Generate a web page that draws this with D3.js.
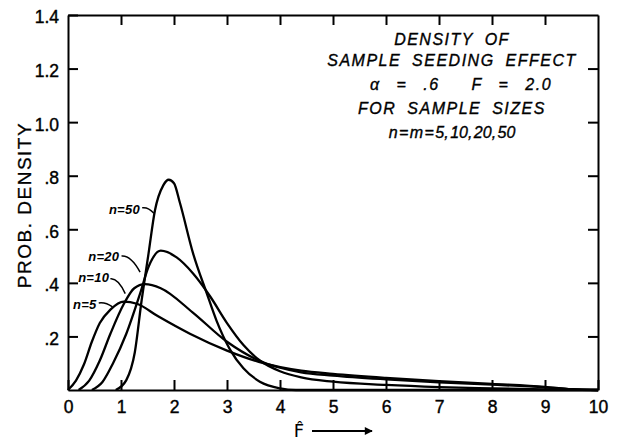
<!DOCTYPE html>
<html>
<head>
<meta charset="utf-8">
<script src="https://d3js.org/d3.v7.min.js"></script>
<style>
  body { margin: 0; background: #fff; }
  svg { display: block; }
  .axis text { font-family: "Liberation Sans", Arial, sans-serif; font-size: 17.5px; fill: #000;
               stroke: #000; stroke-width: 0.4; }
  .axis path, .axis line { stroke: #000; stroke-width: 2; }
  .note { font-family: "Liberation Sans", Arial, sans-serif; font-style: italic; font-size: 16px;
          letter-spacing: 1.5px; word-spacing: 5px; fill: #000; stroke: #000; stroke-width: 0.35;
          white-space: pre; }
  .lab { font-family: "Liberation Sans", Arial, sans-serif; font-style: italic; font-weight: bold;
         font-size: 13px; letter-spacing: 0.3px; fill: #000; }
</style>
</head>
<body>
<div id="chart"></div>
<script>
// x ticks and y ticks
const xTicks = [0, 1, 2, 3, 4, 5, 6, 7, 8, 9, 10];
const yTicks = [0.2, 0.4, 0.6, 0.8, 1.0, 1.2, 1.4];
const yTickLabels = [".2", ".4", ".6", ".8", "1.0", "1.2", "1.4"];

// curves: [F-hat, density]
const n5 = [[0, 0], [0.15, 0.035], [0.3, 0.095], [0.45, 0.18], [0.6, 0.25], [0.8, 0.3], [1.05, 0.33],
  [1.3, 0.322], [1.7, 0.275], [2.3, 0.21], [3.0, 0.147], [3.6, 0.105], [4.4, 0.072], [5, 0.06],
  [6, 0.045], [7, 0.033], [8, 0.023], [9, 0.012], [9.5, 0.003], [10, 0]];
const n10 = [[0.2, 0], [0.4, 0.035], [0.6, 0.11], [0.8, 0.21], [1.05, 0.32], [1.25, 0.38], [1.45, 0.395],
  [1.75, 0.38], [2.35, 0.29], [3.0, 0.18], [3.6, 0.11], [4.4, 0.066], [5, 0.054], [6, 0.04],
  [7, 0.029], [8, 0.02], [9, 0.01], [9.5, 0.003], [10, 0]];
const n20 = [[0.45, 0], [0.65, 0.03], [0.85, 0.1], [1.1, 0.21], [1.36, 0.36], [1.52, 0.46], [1.75, 0.52],
  [2.05, 0.495], [2.36, 0.435], [2.68, 0.35], [3.0, 0.25], [3.31, 0.168], [3.62, 0.11], [4.0, 0.07],
  [4.4, 0.047], [5, 0.031], [6, 0.019], [7, 0.011], [8, 0.006], [9, 0.002], [10, 0]];
const n50 = [[0.9, 0], [1.1, 0.037], [1.26, 0.14], [1.39, 0.336], [1.52, 0.51], [1.64, 0.67], [1.8, 0.765],
  [1.9, 0.785], [2.0, 0.772], [2.11, 0.7], [2.36, 0.51], [2.62, 0.36], [2.8, 0.26], [3.06, 0.15],
  [3.31, 0.081], [3.62, 0.031], [4.0, 0.006], [4.3, 0], [10, 0]];
const series = [n5, n10, n20, n50];

// curve labels: text, text end point, leader from -> to (data units)
const curveLabels = ["n=5", "n=10", "n=20", "n=50"];
const labelAt = [[0.54, 0.302], [0.78, 0.403], [0.97, 0.48], [1.36, 0.657]];
const leaders = [
  [[0.58, 0.325], [0.84, 0.31]],
  [[0.8, 0.415], [1.08, 0.36]],
  [[1.01, 0.5], [1.36, 0.44]],
  [[1.4, 0.68], [1.62, 0.66]]
];

const noteLines = ["DENSITY OF", "SAMPLE SEEDING EFFECT", "α = .6  F = 2.0", "FOR SAMPLE SIZES", "n = m = 5, 10, 20, 50"];

const width = 617, height = 443;
const mLeft = 68, mRight = 598, mTop = 15, mBottom = 390;

const svg = d3.select("#chart").append("svg")
  .attr("width", width).attr("height", height);

const x = d3.scaleLinear().domain([0, 10]).range([mLeft, mRight]);
const y = d3.scaleLinear().domain([0, 1.4]).range([mBottom, mTop]);

// frame + ticks
svg.append("g").attr("class", "axis")
  .attr("transform", `translate(0,${mBottom})`)
  .call(d3.axisBottom(x).tickValues(xTicks).tickSize(-10).tickPadding(14).tickSizeOuter(0))
  .selectAll("text").attr("dy", "0.5em");

svg.append("g").attr("class", "axis")
  .attr("transform", `translate(0,${mTop})`)
  .call(d3.axisTop(x).tickValues(xTicks.slice(1, -1)).tickSize(-10).tickFormat("").tickSizeOuter(0));

svg.append("g").attr("class", "axis")
  .attr("transform", `translate(${mLeft},0)`)
  .call(d3.axisLeft(y).tickValues(yTicks).tickSize(-10).tickPadding(9).tickSizeOuter(0)
    .tickFormat((d, i) => yTickLabels[i]))
  .selectAll("text").attr("dy", "0.45em");

svg.append("g").attr("class", "axis")
  .attr("transform", `translate(${mRight},0)`)
  .call(d3.axisRight(y).tickValues(yTicks.slice(0, -1)).tickSize(-10).tickFormat("").tickSizeOuter(0));

// curves
const line = d3.line()
  .x(d => x(d[0]))
  .y(d => y(d[1]))
  .curve(d3.curveMonotoneX);

svg.selectAll("path.curve")
  .data(series)
  .enter().append("path")
  .attr("class", "curve")
  .attr("d", line)
  .attr("fill", "none")
  .attr("stroke", "#000")
  .attr("stroke-width", 2.3);

// curve labels and leaders
svg.selectAll("text.lab")
  .data(curveLabels)
  .enter().append("text")
  .attr("class", "lab")
  .attr("x", (d, i) => x(labelAt[i][0]))
  .attr("y", (d, i) => y(labelAt[i][1]))
  .attr("text-anchor", "end")
  .text(d => d);

svg.selectAll("path.leader")
  .data(leaders)
  .enter().append("path")
  .attr("class", "leader")
  .attr("d", d => {
    const [a, b] = d.map(p => [x(p[0]), y(p[1])]);
    const mx = (a[0] + b[0]) / 2;
    return `M${a[0]},${a[1]} Q${mx},${a[1] - 1} ${b[0]},${b[1]}`;
  })
  .attr("fill", "none")
  .attr("stroke", "#000")
  .attr("stroke-width", 1.5);

// annotation block
const noteY = [45, 66, 90, 114, 138];
svg.selectAll("text.note")
  .data(noteLines)
  .enter().append("text")
  .attr("class", "note")
  .attr("x", (d, i) => i === 2 ? 461 : 452)
  .attr("y", (d, i) => noteY[i])
  .attr("text-anchor", "middle")
  .style("letter-spacing", (d, i) => i === 4 ? "0px" : null)
  .style("word-spacing", (d, i) => i === 4 ? "-3px" : i === 2 ? "10px" : null)
  .text(d => d);

// y label
svg.append("text")
  .attr("transform", "translate(31,205) rotate(-90)")
  .attr("text-anchor", "middle")
  .style("font-family", "Liberation Sans, Arial, sans-serif")
  .style("font-size", "19px")
  .style("letter-spacing", "1.5px")
  .style("stroke", "#000")
  .style("stroke-width", 0.3)
  .text("PROB. DENSITY");

// x label with arrow
svg.append("text")
  .attr("x", 299)
  .attr("y", 437)
  .attr("text-anchor", "middle")
  .style("font-family", "DejaVu Sans, sans-serif")
  .style("font-size", "18px")
  .text("F\u0302");

svg.append("defs").append("marker")
  .attr("id", "arr")
  .attr("viewBox", "0 0 10 10")
  .attr("refX", 9).attr("refY", 5)
  .attr("markerWidth", 12).attr("markerHeight", 8)
  .attr("markerUnits", "userSpaceOnUse")
  .attr("orient", "auto")
  .append("path").attr("d", "M0,0 L10,5 L0,10 Z").attr("fill", "#000");

svg.append("line")
  .attr("x1", 312).attr("x2", 372)
  .attr("y1", 431).attr("y2", 431)
  .attr("stroke", "#000").attr("stroke-width", 1.8)
  .attr("marker-end", "url(#arr)");
</script>
</body>
</html>
